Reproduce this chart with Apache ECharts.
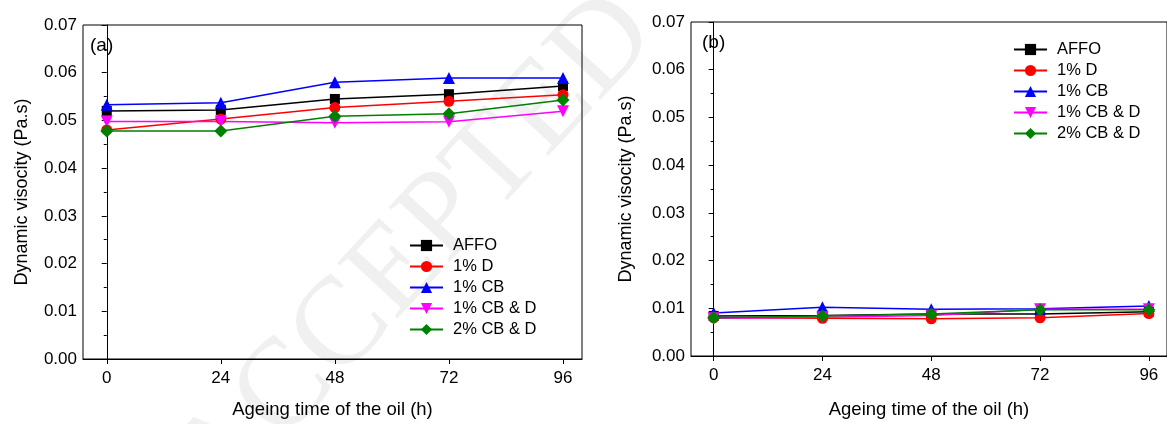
<!DOCTYPE html>
<html>
<head>
<meta charset="utf-8">
<script src="https://cdn.jsdelivr.net/npm/echarts@6/dist/echarts.min.js"></script>
<style>
html,body{margin:0;padding:0;background:#fff;}
#c{width:1167px;height:424px;}
</style>
</head>
<body>
<div id="c"></div>
<script>
const hours = [0, 24, 48, 72, 96];
const seriesNames = ['AFFO', '1% D', '1% CB', '1% CB & D', '2% CB & D'];
// Panel (a)
const aAFFO   = [0.0520, 0.0522, 0.0545, 0.0555, 0.0572];
const a1D     = [0.0480, 0.0503, 0.0527, 0.0540, 0.0554];
const a1CB    = [0.0533, 0.0537, 0.0580, 0.0589, 0.0589];
const a1CBD   = [0.0498, 0.0498, 0.0495, 0.0497, 0.0519];
const a2CBD   = [0.0478, 0.0478, 0.0509, 0.0514, 0.0543];
// Panel (b)
const bAFFO   = [0.0084, 0.0085, 0.0088, 0.0088, 0.0093];
const b1D     = [0.0080, 0.0079, 0.0078, 0.0080, 0.0089];
const b1CB    = [0.0090, 0.0102, 0.0098, 0.0099, 0.0105];
const b1CBD   = [0.0079, 0.0081, 0.0085, 0.0098, 0.0098];
const b2CBD   = [0.0080, 0.0084, 0.0088, 0.0097, 0.0097];

const colors = ['#000000', '#ff0000', '#0000ff', '#ff00ff', '#008000'];
const symbols = ['rect', 'circle', 'triangle', 'path://M0,0 L10,0 L5,9 Z', 'diamond'];
const symSizes = [10, 11, 12, 12, 13];
const FONT = 'Liberation Sans, Arial, sans-serif';

function pairs(vals){ return hours.map((h,i)=>[h, vals[i]]); }

const chart = echarts.init(document.getElementById('c'));

function xAxis(gi){
  return {
    type:'value', gridIndex:gi, min:-5, max:100,
    name:'Ageing time of the oil (h)', nameLocation:'middle', nameGap: gi===0?41:44,
    nameTextStyle:{fontFamily:FONT, fontSize:18.5, color:'#000'},
    axisLine:{show:true, onZero:false, lineStyle:{color:'#000', width:1}},
    axisTick:{show:true, inside:false, length:5, customValues: hours, lineStyle:{color:'#000'}},
    axisLabel:{fontFamily:FONT, fontSize:17, color:'#000', margin:11, customValues: hours},
    splitLine:{show:false}
  };
}
function yAxis(gi){
  return {
    type:'value', gridIndex:gi, min:0, max:0.07, interval:0.01,
    name:'Dynamic visocity (Pa.s)', nameLocation:'middle', nameGap: gi===0?52:56,
    nameTextStyle:{fontFamily:FONT, fontSize:18, color:'#000'},
    axisLine:{show:true, lineStyle:{color:'#000', width:1}},
    axisTick:{show:true, inside:false, length:5, lineStyle:{color:'#000'}},
    minorTick:{show:true, splitNumber:2, length:3, lineStyle:{color:'#000'}},
    axisLabel:{fontFamily:FONT, fontSize:17, color:'#000', margin:6, formatter:v=>v.toFixed(2)},
    splitLine:{show:false}
  };
}

const dataA = [aAFFO, a1D, a1CB, a1CBD, a2CBD];
const dataB = [bAFFO, b1D, b1CB, b1CBD, b2CBD];
const series = [];
[dataA, dataB].forEach((set, gi)=>{
  set.forEach((vals, i)=>{
    series.push({
      type:'line', name: seriesNames[i], xAxisIndex:gi, yAxisIndex:gi,
      data: pairs(vals), symbol: symbols[i], symbolSize: symSizes[i],
      showSymbol:true, animation:false,
      lineStyle:{color:colors[i], width:1.5},
      itemStyle:{color:colors[i]},
      z: 3
    });
  });
});

const legendBase = {
  orient:'vertical', itemWidth:33, itemHeight:14, itemGap:4,
  textStyle:{fontFamily:FONT, fontSize:16.5, color:'#000', padding:[0,0,0,5]},
  data: seriesNames.slice()
};

chart.setOption({
  animation:false,
  backgroundColor:'#fff',
  grid:[
    {left:83, top:25, width:499, height:338, show:true, borderColor:'#000', borderWidth:1, containLabel:false},
    {left:691, top:22, width:492, height:340, show:true, borderColor:'#000', borderWidth:1, containLabel:false}
  ],
  xAxis:[xAxis(0), xAxis(1)],
  yAxis:[yAxis(0), yAxis(1)],
  legend:[
    Object.assign({}, legendBase, {left:404, top:232}),
    Object.assign({}, legendBase, {left:1008, top:36})
  ],
  graphic:[
    {type:'text', left:90, top:36, style:{text:'(a)', fontFamily:FONT, fontSize:19, fill:'#000'}, z:10},
    {type:'text', left:702, top:33, style:{text:'(b)', fontFamily:FONT, fontSize:19, fill:'#000'}, z:10},
    {type:'text', x:150, y:445, rotation:Math.PI*0.262, z:-1, silent:true,
     style:{text:'ACCEPTED', fontFamily:'Liberation Serif, serif', fontSize:125, fill:'#f0f0f0'}}
  ],
  series: series
});
</script>
</body>
</html>
